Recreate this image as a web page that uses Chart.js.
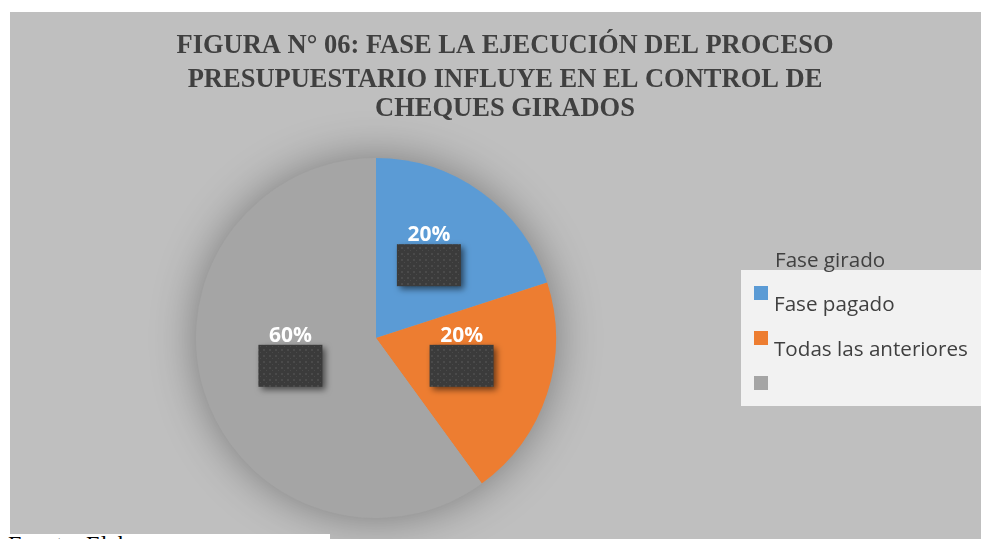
<!DOCTYPE html>
<html><head><meta charset="utf-8">
<script src="https://cdn.jsdelivr.net/npm/chart.js@4/dist/chart.umd.min.js"></script>
<style>
html,body{margin:0;padding:0;background:#fff;width:981px;height:539px;overflow:hidden;}
#wrap{position:absolute;left:10px;top:12px;width:971px;height:527px;background:#bfbfbf;}
#src{position:absolute;left:0;top:534px;width:330px;height:10px;background:#fff;overflow:hidden;}
#src span{position:absolute;left:8px;top:-2px;font-family:"Liberation Serif";font-size:24px;line-height:24px;color:#000;white-space:nowrap;}
</style></head><body>
<div id="wrap"><canvas id="c"></canvas></div>
<div id="src"><span>Fuente: Elab</span></div>
<script>
const titleLines = ["FIGURA N° 06: FASE LA EJECUCIÓN DEL PROCESO", "PRESUPUESTARIO INFLUYE EN EL CONTROL DE", "CHEQUES GIRADOS"];
const legendTitle = "Fase girado";
const categories = ["Fase pagado", "Todas las anteriores", ""];
const values = [20, 20, 60];
const sliceColors = ["#5b9bd5", "#ed7d31", "#a5a5a5"];

// dotted dark pattern for label boxes
function makePattern(ctx){
  const p = document.createElement('canvas'); p.width = 6; p.height = 6;
  const pc = p.getContext('2d');
  pc.fillStyle = '#3b3b3b'; pc.fillRect(0,0,6,6);
  pc.fillStyle = '#4a4a4a'; pc.fillRect(1,1,2,2); pc.fillRect(4,4,1,1);
  return ctx.createPattern(p, 'repeat');
}

const pieShadow = {
  id: 'pieShadow',
  beforeDatasetsDraw(chart){
    const arc = chart.getDatasetMeta(0).data[0];
    if (!arc) return;
    const ctx = chart.ctx; ctx.save();
    ctx.shadowColor = 'rgba(0,0,0,0.38)'; ctx.shadowBlur = 45;
    ctx.fillStyle = '#a5a5a5';
    ctx.beginPath(); ctx.arc(arc.x, arc.y, arc.outerRadius - 1, 0, Math.PI*2); ctx.fill();
    ctx.restore();
  }
};

const figTitle = {
  id: 'figTitle',
  afterDraw(chart){
    const ctx = chart.ctx; ctx.save();
    ctx.font = 'bold 27px "Liberation Serif"';
    ctx.fillStyle = '#404040'; ctx.textAlign = 'center'; ctx.textBaseline = 'alphabetic';
    const sx = 657 / ctx.measureText(titleLines[0]).width;
    const cx = 495, base = [41, 75, 104];
    titleLines.forEach((t, i) => {
      ctx.save(); ctx.translate(cx, base[i]); ctx.scale(sx, 1); ctx.fillText(t, 0, 0); ctx.restore();
    });
    ctx.restore();
  }
};

const sliceLabels = {
  id: 'sliceLabels',
  afterDatasetsDraw(chart){
    const ctx = chart.ctx; const meta = chart.getDatasetMeta(0);
    const ds = chart.data.datasets[0].data; const total = ds.reduce((a,b)=>a+b,0);
    const pat = makePattern(ctx);
    meta.data.forEach((arc, i) => {
      const mid = (arc.startAngle + arc.endAngle) / 2;
      const r = arc.outerRadius * 0.5;
      const bx = arc.x + r*Math.cos(mid), by = arc.y + r*Math.sin(mid);
      const w = 64, h = 42;
      ctx.save();
      ctx.shadowColor = 'rgba(0,0,0,0.55)'; ctx.shadowBlur = 6; ctx.shadowOffsetX = 3; ctx.shadowOffsetY = 3;
      ctx.fillStyle = pat;
      ctx.fillRect(bx - w/2, by - h/2, w, h);
      ctx.restore();
      ctx.save();
      ctx.font = 'bold 21px "Open Sans"';
      ctx.fillStyle = '#ffffff'; ctx.textAlign = 'center'; ctx.textBaseline = 'alphabetic';
      ctx.fillText(Math.round(ds[i]/total*100) + '%', bx, by - h/2 - 3);
      ctx.restore();
    });
  }
};

const boxLegend = {
  id: 'boxLegend',
  afterDraw(chart){
    const ctx = chart.ctx; ctx.save();
    const x0 = 731, y0 = 258, w = 240, h = 136;
    ctx.fillStyle = '#f2f2f2'; ctx.fillRect(x0, y0, w, h);
    ctx.font = '19px "Open Sans"';
    const fs = 19 * 194 / ctx.measureText('Todas las anteriores').width;
    ctx.font = fs + 'px "Open Sans"';
    ctx.fillStyle = '#404040'; ctx.textBaseline = 'alphabetic'; ctx.textAlign = 'left';
    ctx.fillText(legendTitle, 765, 255);
    const colors = chart.data.datasets[0].backgroundColor;
    chart.data.labels.forEach((lab, i) => {
      const sy = 274 + i*45;
      ctx.fillStyle = colors[i]; ctx.fillRect(744, sy, 14, 14);
      ctx.fillStyle = '#404040'; ctx.fillText(lab, 764, sy + 25);
    });
    ctx.restore();
  }
};

Chart.defaults.font.family = '"Open Sans"';
new Chart(document.getElementById('c'), {
  type: 'pie',
  data: {
    labels: categories,
    datasets: [{ data: values, backgroundColor: sliceColors, borderWidth: 0 }]
  },
  options: {
    responsive: true, maintainAspectRatio: false, animation: false,
    devicePixelRatio: 1,
    layout: { padding: { left: 186, top: 146, right: 425, bottom: 21 } },
    plugins: { legend: { display: false }, title: { display: false }, tooltip: { enabled: false } }
  },
  plugins: [pieShadow, sliceLabels, figTitle, boxLegend]
});
</script>
</body></html>
